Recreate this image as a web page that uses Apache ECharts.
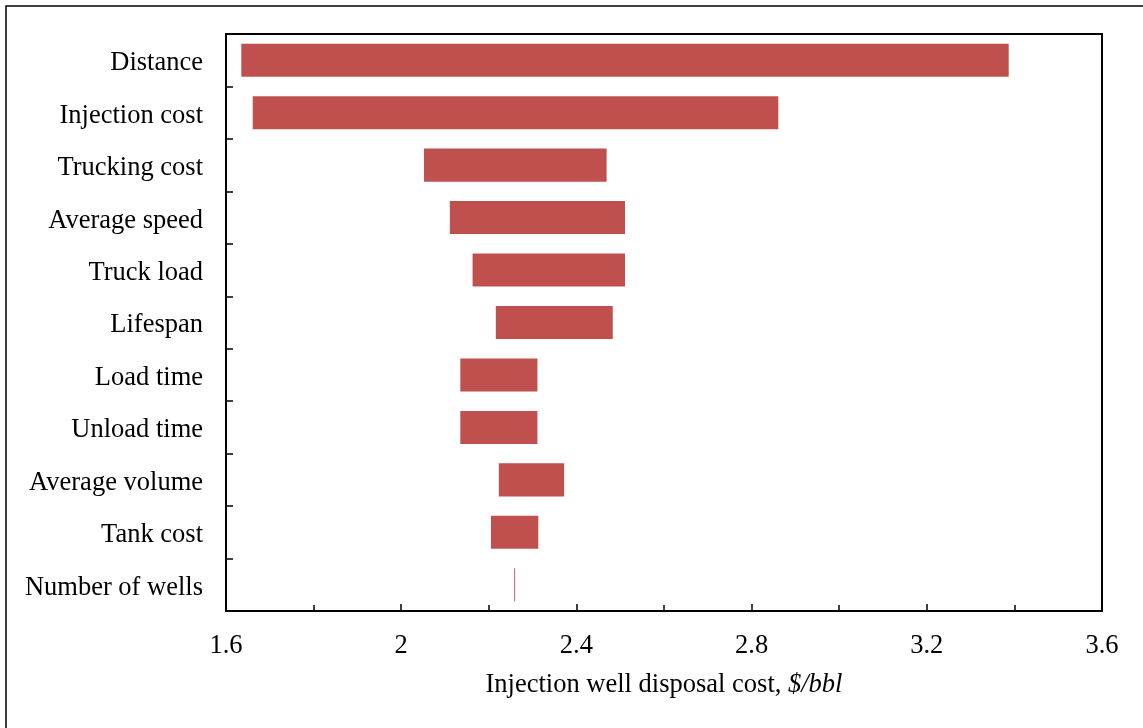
<!DOCTYPE html>
<html><head><meta charset="utf-8">
<script src="https://cdn.jsdelivr.net/npm/echarts@6/dist/echarts.min.js"></script>
<style>html,body{margin:0;padding:0;background:#fff}#c{width:1143px;height:728px}</style>
</head><body><div id="c"></div>
<script>
const categories = ['Distance','Injection cost','Trucking cost','Average speed','Truck load','Lifespan','Load time','Unload time','Average volume','Tank cost','Number of wells'];
const lowValues  = [1.635, 1.661, 2.052, 2.111, 2.163, 2.216, 2.135, 2.135, 2.223, 2.205, 2.258];
const highValues = [3.387, 2.861, 2.469, 2.511, 2.511, 2.483, 2.311, 2.311, 2.372, 2.313, 2.260];
const xTicks = [1.6, 2, 2.4, 2.8, 3.2, 3.6];

const chart = echarts.init(document.getElementById('c'));
const font = 'Liberation Serif';
const fs = 26.5;
chart.setOption({
  backgroundColor: '#fff',
  animation: false,
  graphic: [{type:'rect', shape:{x:6,y:6,width:1160,height:760}, style:{fill:'none', stroke:'#000', lineWidth:1.5}, silent:true}],
  grid: {left:226, right:41, top:34, bottom:117, show:true, borderColor:'#000', borderWidth:2, backgroundColor:'transparent'},
  xAxis: {
    type:'value', min:1.6, max:3.6, interval:0.4,
    axisLine:{show:true, lineStyle:{color:'#000', width:2}},
    axisTick:{show:true, inside:true, length:7, lineStyle:{color:'#000', width:1.5}},
    minorTick:{show:true, splitNumber:2, length:6, lineStyle:{color:'#000', width:1.5}},
    splitLine:{show:false},
    axisLabel:{color:'#000', fontFamily:font, fontSize:fs, margin:22,
      formatter: v => { const t = xTicks.find(x => Math.abs(x - v) < 1e-6); return t === undefined ? '' : String(t); }},
    name:'{n|Injection well disposal cost, }{i|$/bbl}', nameLocation:'middle', nameGap:61,
    nameTextStyle:{rich:{n:{fontFamily:font, fontSize:fs, color:'#000'}, i:{fontFamily:font, fontSize:fs, fontStyle:'italic', color:'#000'}}}
  },
  yAxis: {
    type:'category', data:categories, inverse:true,
    axisLine:{show:true, lineStyle:{color:'#000', width:2}},
    axisTick:{show:true, inside:true, length:7, alignWithLabel:false, lineStyle:{color:'#000', width:1.5}},
    axisLabel:{margin:23, formatter: v => '{a|' + v + '}',
      rich:{a:{color:'#000', fontFamily:font, fontSize:fs, padding:[6,0,0,0]}}},
    splitLine:{show:false}
  },
  series: [
    {type:'bar', stack:'t', data:lowValues, itemStyle:{color:'transparent'}, barCategoryGap:'37%', silent:true},
    {type:'bar', stack:'t', data:highValues.map((h,i) => +(h - lowValues[i]).toFixed(4)), itemStyle:{color:'#C0504D'}, barCategoryGap:'37%'}
  ]
});
</script></body></html>
